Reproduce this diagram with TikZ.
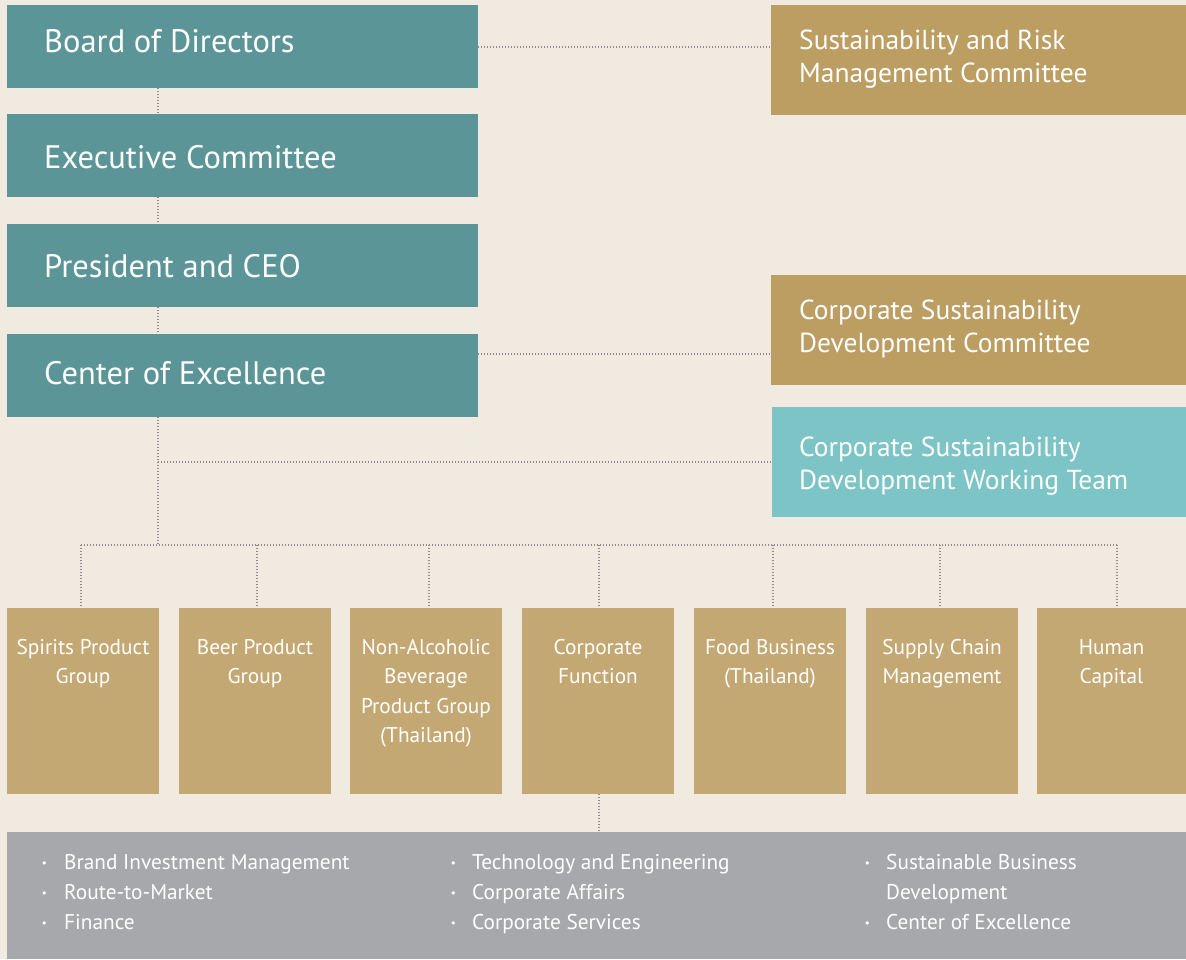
\documentclass[tikz,border=0pt]{standalone}
\usepackage{fontspec}
\setmainfont{PT Sans}
\newfontfamily\dvfont{DejaVu Sans}
\definecolor{bgc}{HTML}{F0EAE0}
\definecolor{tealc}{HTML}{5B9597}
\definecolor{goldc}{HTML}{BC9E62}
\definecolor{tanc}{HTML}{C4A873}
\definecolor{lteal}{HTML}{7DC4C6}
\definecolor{grayc}{HTML}{A7A8AB}
\definecolor{dotc}{HTML}{8A8A8A}
\newcommand{\bul}[1]{\makebox[#1][l]{\raisebox{1.5pt}{\dvfont\fontsize{11}{11}\selectfont •}}}
\begin{document}
\begin{tikzpicture}[x=1pt,y=-1pt,
  box/.style={inner sep=0pt, outer sep=0pt, anchor=north west, draw=none},
  bigtxt/.style={text=white, inner sep=0pt, anchor=base west, font=\fontsize{32.5}{33}\selectfont},
  midtxt/.style={text=white, inner sep=0pt, anchor=north west, align=left, font=\fontsize{27.5}{33}\selectfont},
  smalltxt/.style={text=white, inner sep=0pt, anchor=north, align=center, font=\fontsize{21.3}{29.5}\selectfont},
  bultxt/.style={text=white, inner sep=0pt, anchor=north west, align=left, font=\fontsize{21.3}{30}\selectfont},
  dotline/.style={draw=dotc, line width=1.3pt, dash pattern=on 1.2pt off 1.8pt}]
\useasboundingbox (0,0) rectangle (1186,959);
\fill[bgc] (0,0) rectangle (1186,959);
% left column
\node[box, fill=tealc, minimum width=471pt, minimum height=83pt] (bod) at (7,5) {};
\node[box, fill=tealc, minimum width=471pt, minimum height=83pt] (exc) at (7,114) {};
\node[box, fill=tealc, minimum width=471pt, minimum height=83pt] (ceo) at (7,224) {};
\node[box, fill=tealc, minimum width=471pt, minimum height=83pt] (coe) at (7,334) {};
\node[bigtxt] (bodt) at (44,52) {Board of Directors};
\node[bigtxt] (exct) at (44,168) {Executive Committee};
\node[bigtxt] (ceot) at (44,277) {President and CEO};
\node[bigtxt] (coet) at (44,384) {Center of Excellence};
% right column
\node[box, fill=goldc, minimum width=415pt, minimum height=110pt] (srm) at (771,5) {};
\node[box, fill=goldc, minimum width=415pt, minimum height=110pt] (csd) at (771,275) {};
\node[box, fill=lteal, minimum width=414pt, minimum height=110pt] (wt) at (772,407) {};
\node[midtxt] (srmt) at (799,30) {Sustainability and Risk\\Management Committee};
\node[midtxt] (csdt) at (799,300) {Corporate Sustainability\\Development Committee};
\node[midtxt] (wtt) at (799,437) {Corporate Sustainability\\Development Working Team};
% bottom row
\foreach \n/\x/\w in {g1/7/152, g2/179/152, g3/350/152, g4/522/152, g5/694/152, g6/866/152, g7/1037/149}{
  \node[box, fill=tanc, minimum width=\w pt, minimum height=186pt] (\n) at (\x,608) {};
}
\node[smalltxt] (g1t) at ([yshift=-31pt]g1.north) {Spirits Product\\Group};
\node[smalltxt] (g2t) at ([yshift=-31pt]g2.north) {Beer Product\\Group};
\node[smalltxt] (g3t) at ([yshift=-31pt]g3.north) {Non-Alcoholic\\Beverage\\Product Group\\(Thailand)};
\node[smalltxt] (g4t) at ([yshift=-31pt]g4.north) {Corporate\\Function};
\node[smalltxt] (g5t) at ([yshift=-31pt]g5.north) {Food Business\\(Thailand)};
\node[smalltxt] (g6t) at ([yshift=-31pt]g6.north) {Supply Chain\\Management};
\node[smalltxt] (g7t) at ([yshift=-31pt]g7.north) {Human\\Capital};
% gray box
\node[box, fill=grayc, minimum width=1179pt, minimum height=127pt] (cf) at (7,832) {};
\node[bultxt] (c1) at (41,854) {\bul{23pt}Brand Investment Management\\\bul{23pt}Route-to-Market\\\bul{23pt}Finance};
\node[bultxt] (c2) at (450,854) {\bul{22pt}Technology and Engineering\\\bul{22pt}Corporate Affairs\\\bul{22pt}Corporate Services};
\node[bultxt] (c3) at (864,854) {\bul{22pt}Sustainable Business\\\makebox[22pt][l]{}Development\\\bul{22pt}Center of Excellence};
% connectors
\coordinate (spx) at (158,0);
\coordinate (busy) at (0,545);
\draw[dotline] (bod.south -| spx) -- (exc.north -| spx);
\draw[dotline] (exc.south -| spx) -- (ceo.north -| spx);
\draw[dotline] (ceo.south -| spx) -- (coe.north -| spx);
\draw[dotline] (coe.south -| spx) -- (busy -| spx);
\draw[dotline] (bod.east |- 0,47) -- (srm.west |- 0,47);
\draw[dotline] (coe.east |- 0,354) -- (csd.west |- 0,354);
\draw[dotline] (spx |- 0,462) -- (wt.west |- 0,462);
\coordinate (busl) at (81,545);
\coordinate (busr) at (1117,545);
\draw[dotline] (busl) -- (busr);
\draw[dotline] (busl) -- (busl |- g1.north);
\draw[dotline] (busy -| 257,0) -- (g2.north -| 257,0);
\draw[dotline] (busy -| 429,0) -- (g3.north -| 429,0);
\draw[dotline] (busy -| 599,0) -- (g4.north -| 599,0);
\draw[dotline] (busy -| 773,0) -- (g5.north -| 773,0);
\draw[dotline] (busy -| 940,0) -- (g6.north -| 940,0);
\draw[dotline] (busr) -- (busr |- g7.north);
\draw[dotline] (g4.south -| 599,0) -- (cf.north -| 599,0);
\end{tikzpicture}
\end{document}
